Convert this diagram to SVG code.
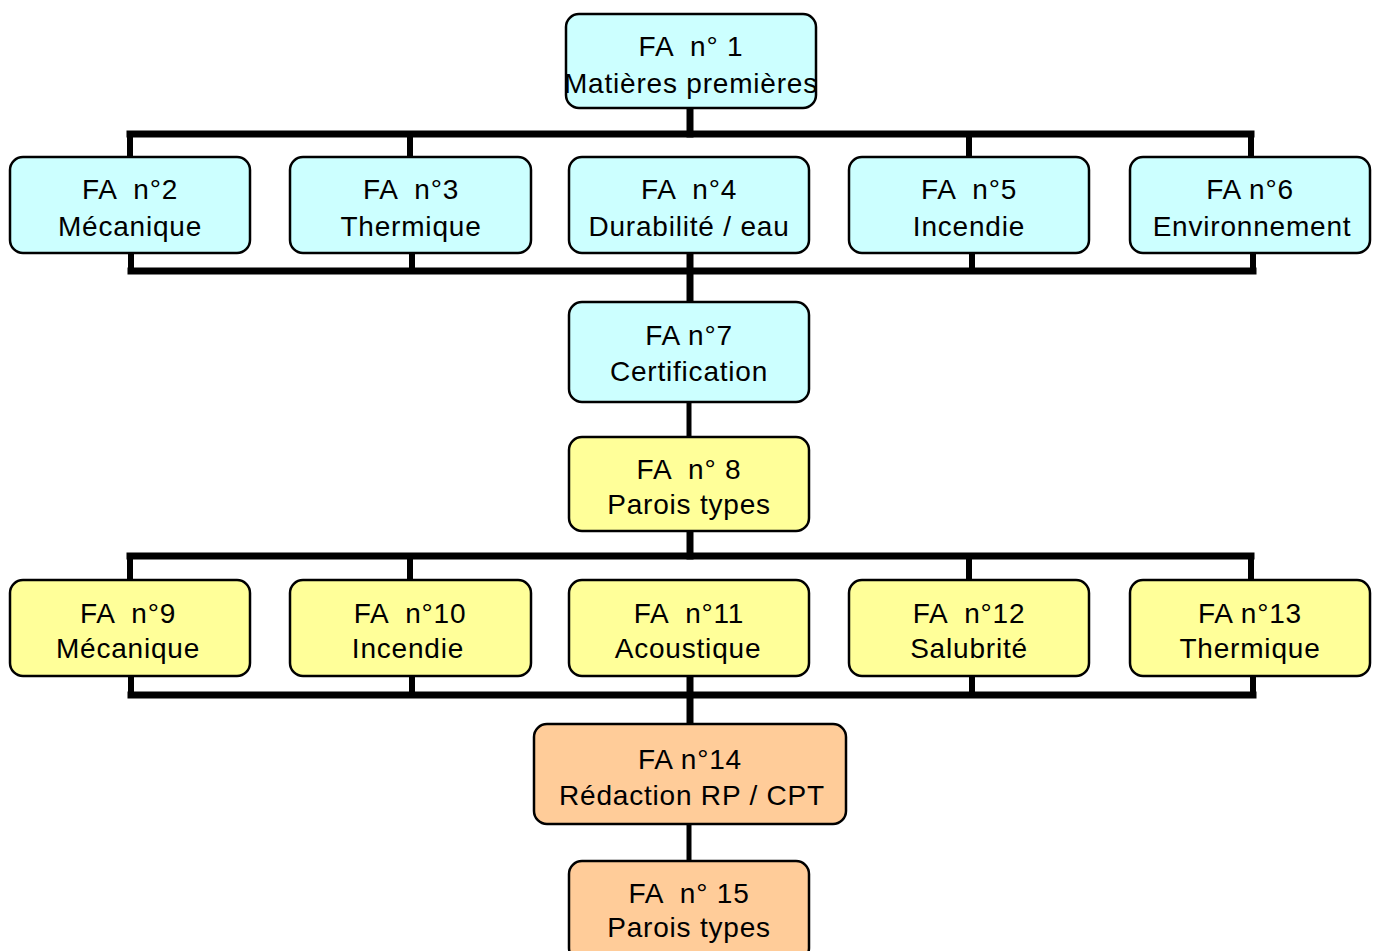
<svg xmlns="http://www.w3.org/2000/svg" width="1377" height="951" viewBox="0 0 1377 951">
<style>
.n rect{stroke:#000;stroke-width:2.5}
.b{fill:#ccffff}.y{fill:#ffff99}.o{fill:#ffcc99}
text{font-family:"Liberation Sans",Arial,sans-serif;font-size:28px;fill:#000;text-anchor:middle;letter-spacing:0.8px;white-space:pre}
#conn line{stroke:#000;stroke-linecap:square}
</style>
<rect width="1377" height="951" fill="#fff"/>
<g id="conn">
<g stroke-width="7">
<line x1="130" y1="134" x2="1251" y2="134"/>
<line x1="131" y1="271" x2="1253" y2="271"/>
<line x1="130" y1="556" x2="1251" y2="556"/>
<line x1="131" y1="695" x2="1253" y2="695"/>
<line x1="690" y1="108" x2="690" y2="134"/>
<line x1="690" y1="253" x2="690" y2="300"/>
<line x1="690" y1="531" x2="690" y2="556"/>
<line x1="690" y1="676" x2="690" y2="722"/>
</g>
<g stroke-width="6">
<line x1="130" y1="134" x2="130" y2="157"/>
<line x1="410" y1="134" x2="410" y2="157"/>
<line x1="969" y1="134" x2="969" y2="157"/>
<line x1="1251" y1="134" x2="1251" y2="157"/>
<line x1="131" y1="253" x2="131" y2="271"/>
<line x1="412" y1="253" x2="412" y2="271"/>
<line x1="972" y1="253" x2="972" y2="271"/>
<line x1="1253" y1="253" x2="1253" y2="271"/>
<line x1="130" y1="556" x2="130" y2="580"/>
<line x1="410" y1="556" x2="410" y2="580"/>
<line x1="969" y1="556" x2="969" y2="580"/>
<line x1="1251" y1="556" x2="1251" y2="580"/>
<line x1="131" y1="676" x2="131" y2="695"/>
<line x1="412" y1="676" x2="412" y2="695"/>
<line x1="972" y1="676" x2="972" y2="695"/>
<line x1="1253" y1="676" x2="1253" y2="695"/>
</g>
<g stroke-width="5">
<line x1="689" y1="402" x2="689" y2="437"/>
<line x1="689" y1="824" x2="689" y2="861"/>
</g>
</g>
<g id="n1" class="n"><rect class="b" x="566" y="14" width="250" height="94" rx="13"/><text x="691" y="56">FA  n° 1</text><text x="691" y="93">Matières premières</text></g>
<g id="n2" class="n"><rect class="b" x="10" y="157" width="240" height="96" rx="13"/><text x="130" y="199">FA  n°2</text><text x="130" y="236">Mécanique</text></g>
<g id="n3" class="n"><rect class="b" x="290" y="157" width="241" height="96" rx="13"/><text x="411" y="199">FA  n°3</text><text x="411" y="236">Thermique</text></g>
<g id="n4" class="n"><rect class="b" x="569" y="157" width="240" height="96" rx="13"/><text x="689" y="199">FA  n°4</text><text x="689" y="236">Durabilité / eau</text></g>
<g id="n5" class="n"><rect class="b" x="849" y="157" width="240" height="96" rx="13"/><text x="969" y="199">FA  n°5</text><text x="969" y="236">Incendie</text></g>
<g id="n6" class="n"><rect class="b" x="1130" y="157" width="240" height="96" rx="13"/><text x="1250" y="199">FA n°6</text><text x="1252" y="236">Environnement</text></g>
<g id="n7" class="n"><rect class="b" x="569" y="302" width="240" height="100" rx="13"/><text x="689" y="345">FA n°7</text><text x="689" y="381">Certification</text></g>
<g id="n8" class="n"><rect class="y" x="569" y="437" width="240" height="94" rx="13"/><text x="689" y="479">FA  n° 8</text><text x="689" y="514">Parois types</text></g>
<g id="n9" class="n"><rect class="y" x="10" y="580" width="240" height="96" rx="13"/><text x="128" y="623">FA  n°9</text><text x="128" y="658">Mécanique</text></g>
<g id="n10" class="n"><rect class="y" x="290" y="580" width="241" height="96" rx="13"/><text x="410" y="623">FA  n°10</text><text x="408" y="658">Incendie</text></g>
<g id="n11" class="n"><rect class="y" x="569" y="580" width="240" height="96" rx="13"/><text x="689" y="623">FA  n°11</text><text x="688" y="658">Acoustique</text></g>
<g id="n12" class="n"><rect class="y" x="849" y="580" width="240" height="96" rx="13"/><text x="969" y="623">FA  n°12</text><text x="969" y="658">Salubrité</text></g>
<g id="n13" class="n"><rect class="y" x="1130" y="580" width="240" height="96" rx="13"/><text x="1250" y="623">FA n°13</text><text x="1250" y="658">Thermique</text></g>
<g id="n14" class="n"><rect class="o" x="534" y="724" width="312" height="100" rx="13"/><text x="690" y="769">FA n°14</text><text x="692" y="805">Rédaction RP / CPT</text></g>
<g id="n15" class="n"><rect class="o" x="569" y="861" width="240" height="100" rx="13"/><text x="689" y="903">FA  n° 15</text><text x="689" y="937">Parois types</text></g>
</svg>
